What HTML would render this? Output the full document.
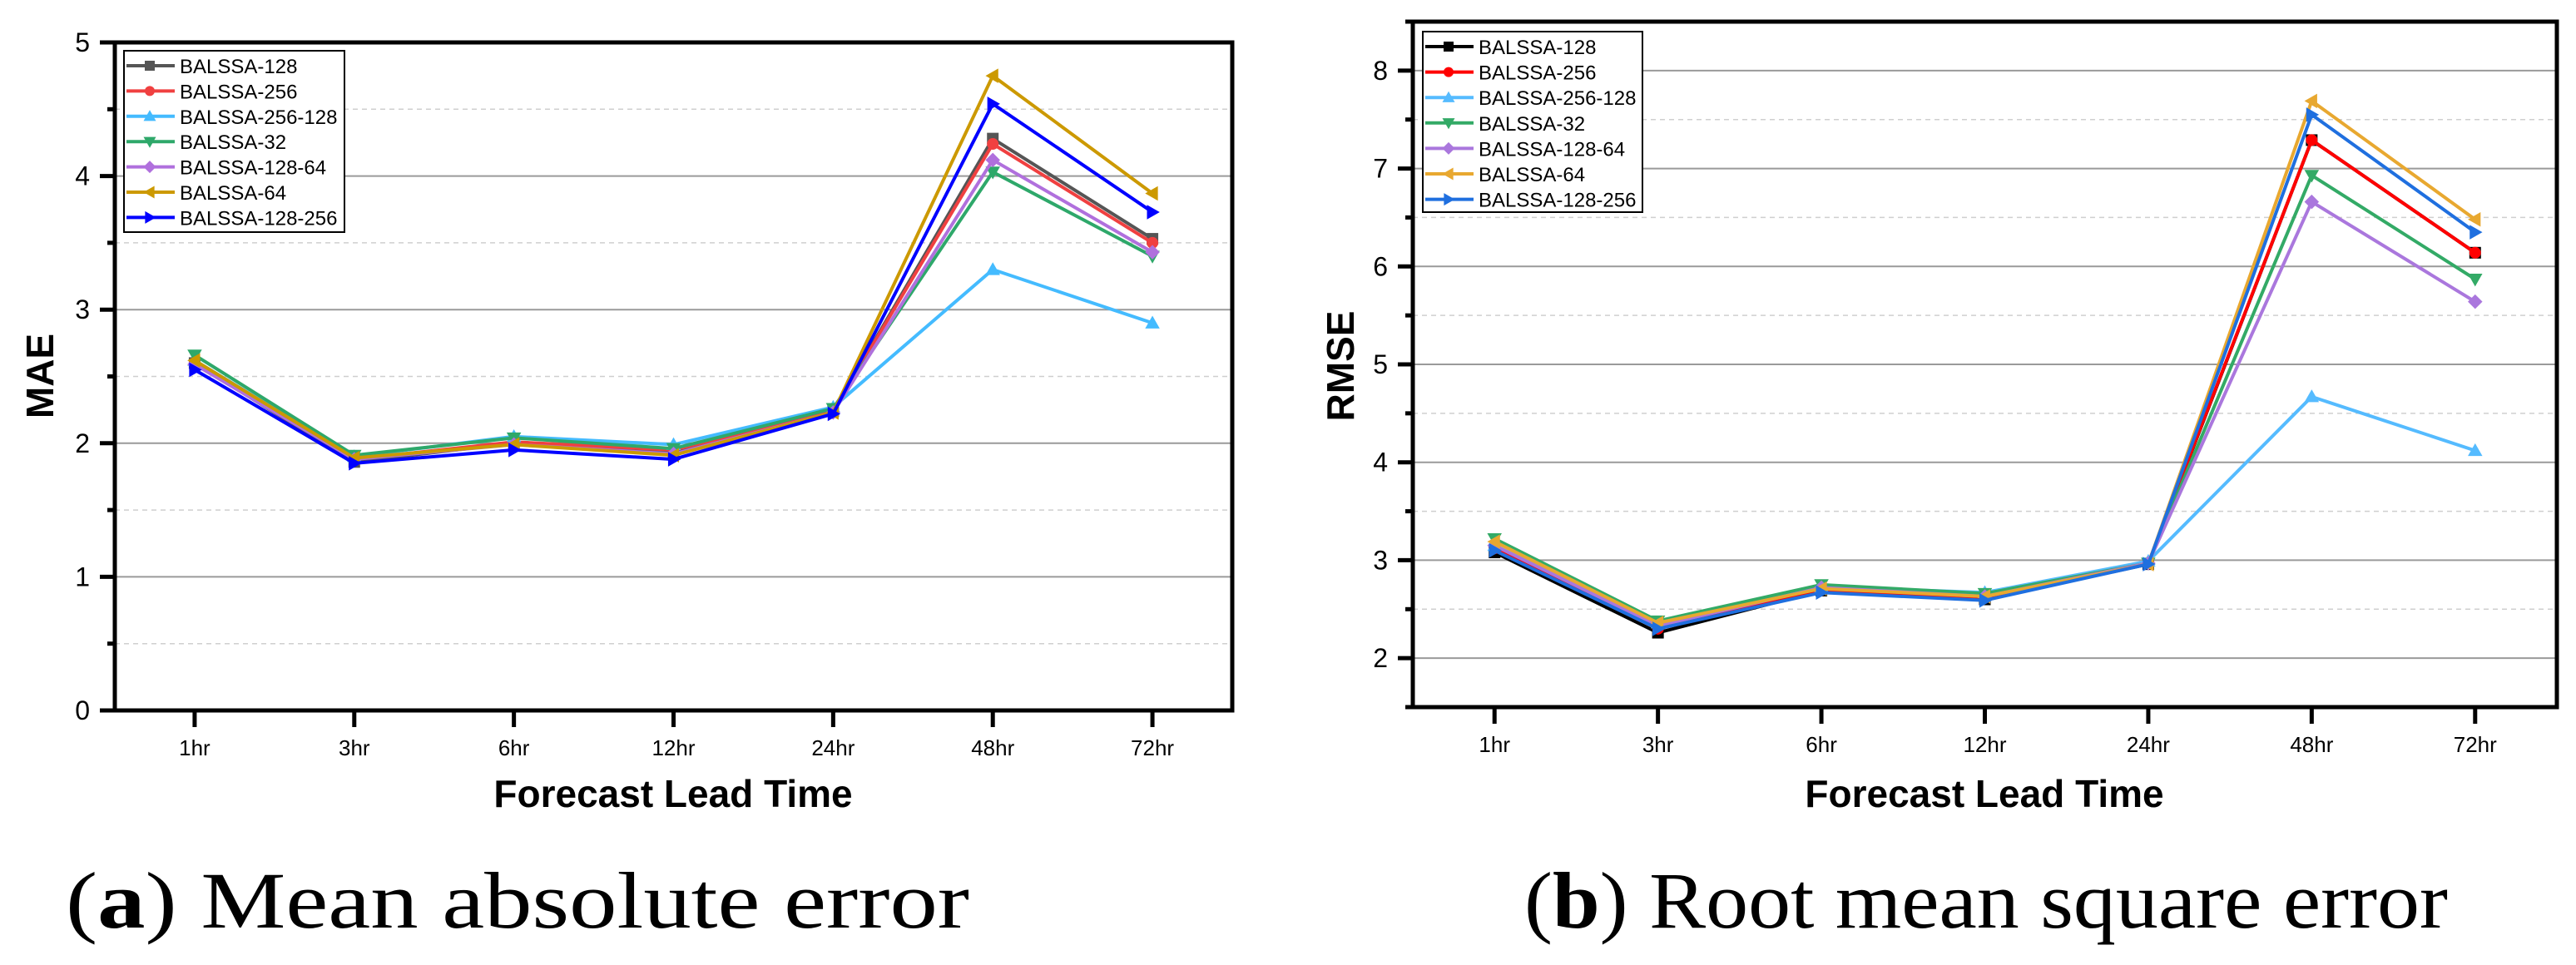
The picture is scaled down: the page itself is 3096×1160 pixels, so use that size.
<!DOCTYPE html>
<html><head><meta charset="utf-8">
<style>
html,body{margin:0;padding:0;background:#fff;}
svg{display:block;}
text{font-family:"Liberation Sans",sans-serif;}
</style></head>
<body>
<svg id="fig" width="3096" height="1160" viewBox="0 0 3096 1160" xmlns="http://www.w3.org/2000/svg">
<text x="79" y="1115" textLength="1086" lengthAdjust="spacingAndGlyphs" font-size="96" style="font-family:'Liberation Serif',serif">(<tspan font-weight="bold">a</tspan>) Mean absolute error</text>
<text x="1832" y="1115" textLength="1110" lengthAdjust="spacingAndGlyphs" font-size="96" style="font-family:'Liberation Serif',serif">(<tspan font-weight="bold">b</tspan>) Root mean square error</text>
</svg>
<script>
const categories = ["1hr","3hr","6hr","12hr","24hr","48hr","72hr"];
const seriesNames = ["BALSSA-128","BALSSA-256","BALSSA-256-128","BALSSA-32","BALSSA-128-64","BALSSA-64","BALSSA-128-256"];
const maeB128    = [2.60,1.86,2.00,1.93,2.24,4.28,3.53];
const maeB256    = [2.60,1.88,2.01,1.95,2.24,4.24,3.50];
const maeB256128 = [2.62,1.90,2.05,1.99,2.27,3.30,2.90];
const maeB32     = [2.66,1.91,2.04,1.96,2.26,4.03,3.40];
const maeB12864  = [2.59,1.88,1.99,1.92,2.23,4.12,3.43];
const maeB64     = [2.62,1.89,1.99,1.91,2.23,4.75,3.87];
const maeB128256 = [2.55,1.85,1.95,1.88,2.22,4.54,3.73];
const rmseB128    = [3.08,2.26,2.69,2.60,2.96,7.29,6.14];
const rmseB256    = [3.12,2.30,2.70,2.62,2.97,7.29,6.14];
const rmseB256128 = [3.15,2.36,2.73,2.67,2.99,4.67,4.12];
const rmseB32     = [3.22,2.38,2.75,2.66,2.97,6.93,5.87];
const rmseB12864  = [3.15,2.33,2.72,2.63,2.97,6.66,5.64];
const rmseB64     = [3.19,2.36,2.71,2.63,2.96,7.69,6.48];
const rmseB128256 = [3.10,2.30,2.67,2.59,2.96,7.55,6.35];
const maeTicks = [0,1,2,3,4,5];
const rmseTicks = [2,3,4,5,6,7,8];

const NS="http://www.w3.org/2000/svg";
const svg=document.getElementById('fig');
function mk(tag,attrs,parent){const e=document.createElementNS(NS,tag);for(const k in attrs)e.setAttribute(k,attrs[k]);(parent||svg).appendChild(e);return e;}
const markers=["square","circle","up","down","diamond","left","right"];
function marker(g,type,x,y,c,s){
  let e;
  if(type==="square") e=mk('rect',{x:x-s,y:y-s,width:2*s,height:2*s,fill:c},g);
  else if(type==="circle") e=mk('circle',{cx:x,cy:y,r:s,fill:c},g);
  else{
    let p;
    const t=s*1.25;
    if(type==="up") p=[[x,y-t],[x+t,y+t*0.75],[x-t,y+t*0.75]];
    if(type==="down") p=[[x,y+t],[x+t,y-t*0.75],[x-t,y-t*0.75]];
    if(type==="left") p=[[x-t,y],[x+t*0.75,y-t],[x+t*0.75,y+t]];
    if(type==="right") p=[[x+t,y],[x-t*0.75,y-t],[x-t*0.75,y+t]];
    if(type==="diamond") p=[[x,y-t],[x+t,y],[x,y+t],[x-t,y]];
    e=mk('polygon',{points:p.map(q=>q.join(',')).join(' '),fill:c},g);
  }
  
  
}
function chart(cfg){
  const {id,L,R,T,B,ymin,ymax,ticks,series,colors,ytitle,ytx,yty,xtx,leg}=cfg;
  const g=mk('g',{});
  
  
  const xs=i=>L+(R-L)/categories.length*(i+0.5);
  const ys=v=>B-(v-ymin)/(ymax-ymin)*(B-T);
  for(let v=Math.ceil(ymin*2)/2; v<=ymax; v+=0.5){
    const y=ys(v);
    if(Math.abs(v-Math.round(v))<1e-6){
      if(v>ymin&&v<ymax){const l=mk('line',{x1:L,x2:R,y1:y,y2:y,stroke:'#9a9a9a','stroke-width':2},g);
      
      }
    } else {
      const l=mk('line',{x1:L,x2:R,y1:y,y2:y,stroke:'#cfcfcf','stroke-width':1.5,'stroke-dasharray':'6,5'},g);
      
      
    }
    const tk=mk('line',{x1:L-(Math.abs(v-Math.round(v))<1e-6?18:9),x2:L,y1:y,y2:y,stroke:'#000','stroke-width':5},g);
    
    
  }
  ticks.forEach(v=>{
    const t=mk('text',{x:L-30,y:ys(v)+11,'text-anchor':'end','font-size':32},g);
    t.textContent=v;
    
    
  });
  categories.forEach((c,i)=>{
    const tk=mk('line',{x1:xs(i),x2:xs(i),y1:B,y2:B+20,stroke:'#000','stroke-width':5},g);
    
    
    const t=mk('text',{x:xs(i),y:B+54,'text-anchor':'middle','font-size':26},g);
    t.textContent=c;
    
    
  });
  series.forEach((d,si)=>{
    const sg=mk('g',{},g);
    
    
    const pl=mk('polyline',{points:d.map((v,i)=>xs(i)+','+ys(v)).join(' '),fill:'none',stroke:colors[si],'stroke-width':4,'stroke-linejoin':'round'},sg);
    
    
    d.forEach((v,i)=>marker(sg,markers[si],xs(i),ys(v),colors[si],7));
  });
  const fr=mk('rect',{x:L,y:T,width:R-L,height:B-T,fill:'none',stroke:'#000','stroke-width':5},g);
  
  
  const lg=mk('g',{},g);
  
  
  mk('rect',{x:leg.x,y:leg.y,width:leg.w,height:leg.h,fill:'#fff',stroke:'#000','stroke-width':2},lg);
  seriesNames.forEach((n,si)=>{
    const y=leg.y+18+si*leg.p;
    const e=mk('g',{},lg);
    
    
    mk('line',{x1:leg.x+3,x2:leg.x+61,y1:y,y2:y,stroke:colors[si],'stroke-width':4},e);
    marker(e,markers[si],leg.x+31,y,colors[si],6);
    const t=mk('text',{x:leg.x+67,y:y+9,'font-size':24},e);
    t.textContent=n;
  });
  const yt=mk('text',{x:ytx,y:yty,'text-anchor':'middle','font-size':46,'font-weight':'bold',transform:`rotate(-90 ${ytx} ${yty})`},g);
  yt.textContent=ytitle;
  
  
  const xt=mk('text',{x:xtx,y:970,'text-anchor':'middle','font-size':46,'font-weight':'bold'},g);
  xt.textContent="Forecast Lead Time";
  
  
}
chart({id:'mae-chart',L:138,R:1481,T:51,B:854,ymin:0,ymax:5,ticks:maeTicks,
  series:[maeB128,maeB256,maeB256128,maeB32,maeB12864,maeB64,maeB128256],
  colors:['#555555','#f04040','#44bbff','#2ea86a','#b070dd','#cc9900','#0000ff'],
  ytitle:'MAE',ytx:64,yty:452,xtx:809,leg:{x:149,y:61,w:265,h:218,p:30.4}});
chart({id:'rmse-chart',L:1698,R:3073,T:26,B:850,ymin:1.5,ymax:8.5,ticks:rmseTicks,
  series:[rmseB128,rmseB256,rmseB256128,rmseB32,rmseB12864,rmseB64,rmseB128256],
  colors:['#000000','#ff0000','#55bbff','#33aa66','#aa77dd','#e8a830','#1f6fdf'],
  ytitle:'RMSE',ytx:1627,yty:440,xtx:2385,leg:{x:1710,y:38,w:264,h:217,p:30.6}});
</script>
</body></html>
